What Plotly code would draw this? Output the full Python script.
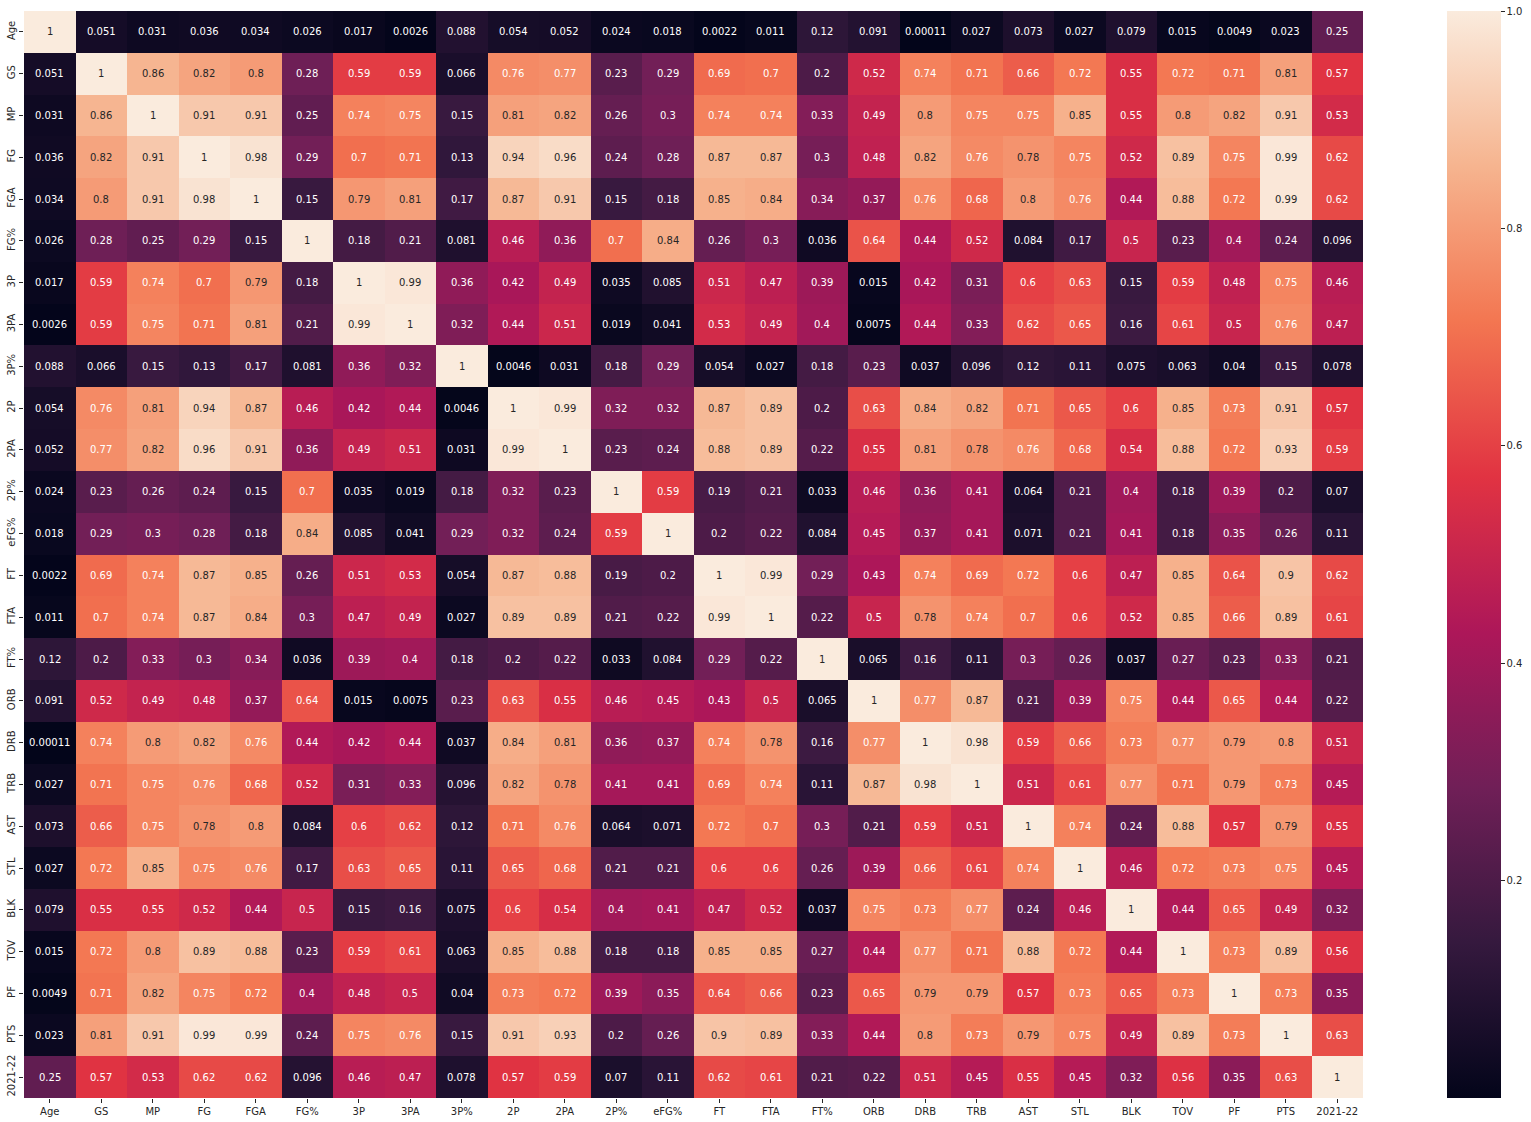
import plotly.graph_objects as go

labels = ["Age", "GS", "MP", "FG", "FGA", "FG%", "3P", "3PA", "3P%", "2P", "2PA", "2P%",
          "eFG%", "FT", "FTA", "FT%", "ORB", "DRB", "TRB", "AST", "STL", "BLK", "TOV",
          "PF", "PTS", "2021-22"]

corr = [
    [1, 0.051, 0.031, 0.036, 0.034, 0.026, 0.017, 0.0026, 0.088, 0.054, 0.052, 0.024, 0.018, 0.0022, 0.011, 0.12, 0.091, 0.00011, 0.027, 0.073, 0.027, 0.079, 0.015, 0.0049, 0.023, 0.25],
    [0.051, 1, 0.86, 0.82, 0.8, 0.28, 0.59, 0.59, 0.066, 0.76, 0.77, 0.23, 0.29, 0.69, 0.7, 0.2, 0.52, 0.74, 0.71, 0.66, 0.72, 0.55, 0.72, 0.71, 0.81, 0.57],
    [0.031, 0.86, 1, 0.91, 0.91, 0.25, 0.74, 0.75, 0.15, 0.81, 0.82, 0.26, 0.3, 0.74, 0.74, 0.33, 0.49, 0.8, 0.75, 0.75, 0.85, 0.55, 0.8, 0.82, 0.91, 0.53],
    [0.036, 0.82, 0.91, 1, 0.98, 0.29, 0.7, 0.71, 0.13, 0.94, 0.96, 0.24, 0.28, 0.87, 0.87, 0.3, 0.48, 0.82, 0.76, 0.78, 0.75, 0.52, 0.89, 0.75, 0.99, 0.62],
    [0.034, 0.8, 0.91, 0.98, 1, 0.15, 0.79, 0.81, 0.17, 0.87, 0.91, 0.15, 0.18, 0.85, 0.84, 0.34, 0.37, 0.76, 0.68, 0.8, 0.76, 0.44, 0.88, 0.72, 0.99, 0.62],
    [0.026, 0.28, 0.25, 0.29, 0.15, 1, 0.18, 0.21, 0.081, 0.46, 0.36, 0.7, 0.84, 0.26, 0.3, 0.036, 0.64, 0.44, 0.52, 0.084, 0.17, 0.5, 0.23, 0.4, 0.24, 0.096],
    [0.017, 0.59, 0.74, 0.7, 0.79, 0.18, 1, 0.99, 0.36, 0.42, 0.49, 0.035, 0.085, 0.51, 0.47, 0.39, 0.015, 0.42, 0.31, 0.6, 0.63, 0.15, 0.59, 0.48, 0.75, 0.46],
    [0.0026, 0.59, 0.75, 0.71, 0.81, 0.21, 0.99, 1, 0.32, 0.44, 0.51, 0.019, 0.041, 0.53, 0.49, 0.4, 0.0075, 0.44, 0.33, 0.62, 0.65, 0.16, 0.61, 0.5, 0.76, 0.47],
    [0.088, 0.066, 0.15, 0.13, 0.17, 0.081, 0.36, 0.32, 1, 0.0046, 0.031, 0.18, 0.29, 0.054, 0.027, 0.18, 0.23, 0.037, 0.096, 0.12, 0.11, 0.075, 0.063, 0.04, 0.15, 0.078],
    [0.054, 0.76, 0.81, 0.94, 0.87, 0.46, 0.42, 0.44, 0.0046, 1, 0.99, 0.32, 0.32, 0.87, 0.89, 0.2, 0.63, 0.84, 0.82, 0.71, 0.65, 0.6, 0.85, 0.73, 0.91, 0.57],
    [0.052, 0.77, 0.82, 0.96, 0.91, 0.36, 0.49, 0.51, 0.031, 0.99, 1, 0.23, 0.24, 0.88, 0.89, 0.22, 0.55, 0.81, 0.78, 0.76, 0.68, 0.54, 0.88, 0.72, 0.93, 0.59],
    [0.024, 0.23, 0.26, 0.24, 0.15, 0.7, 0.035, 0.019, 0.18, 0.32, 0.23, 1, 0.59, 0.19, 0.21, 0.033, 0.46, 0.36, 0.41, 0.064, 0.21, 0.4, 0.18, 0.39, 0.2, 0.07],
    [0.018, 0.29, 0.3, 0.28, 0.18, 0.84, 0.085, 0.041, 0.29, 0.32, 0.24, 0.59, 1, 0.2, 0.22, 0.084, 0.45, 0.37, 0.41, 0.071, 0.21, 0.41, 0.18, 0.35, 0.26, 0.11],
    [0.0022, 0.69, 0.74, 0.87, 0.85, 0.26, 0.51, 0.53, 0.054, 0.87, 0.88, 0.19, 0.2, 1, 0.99, 0.29, 0.43, 0.74, 0.69, 0.72, 0.6, 0.47, 0.85, 0.64, 0.9, 0.62],
    [0.011, 0.7, 0.74, 0.87, 0.84, 0.3, 0.47, 0.49, 0.027, 0.89, 0.89, 0.21, 0.22, 0.99, 1, 0.22, 0.5, 0.78, 0.74, 0.7, 0.6, 0.52, 0.85, 0.66, 0.89, 0.61],
    [0.12, 0.2, 0.33, 0.3, 0.34, 0.036, 0.39, 0.4, 0.18, 0.2, 0.22, 0.033, 0.084, 0.29, 0.22, 1, 0.065, 0.16, 0.11, 0.3, 0.26, 0.037, 0.27, 0.23, 0.33, 0.21],
    [0.091, 0.52, 0.49, 0.48, 0.37, 0.64, 0.015, 0.0075, 0.23, 0.63, 0.55, 0.46, 0.45, 0.43, 0.5, 0.065, 1, 0.77, 0.87, 0.21, 0.39, 0.75, 0.44, 0.65, 0.44, 0.22],
    [0.00011, 0.74, 0.8, 0.82, 0.76, 0.44, 0.42, 0.44, 0.037, 0.84, 0.81, 0.36, 0.37, 0.74, 0.78, 0.16, 0.77, 1, 0.98, 0.59, 0.66, 0.73, 0.77, 0.79, 0.8, 0.51],
    [0.027, 0.71, 0.75, 0.76, 0.68, 0.52, 0.31, 0.33, 0.096, 0.82, 0.78, 0.41, 0.41, 0.69, 0.74, 0.11, 0.87, 0.98, 1, 0.51, 0.61, 0.77, 0.71, 0.79, 0.73, 0.45],
    [0.073, 0.66, 0.75, 0.78, 0.8, 0.084, 0.6, 0.62, 0.12, 0.71, 0.76, 0.064, 0.071, 0.72, 0.7, 0.3, 0.21, 0.59, 0.51, 1, 0.74, 0.24, 0.88, 0.57, 0.79, 0.55],
    [0.027, 0.72, 0.85, 0.75, 0.76, 0.17, 0.63, 0.65, 0.11, 0.65, 0.68, 0.21, 0.21, 0.6, 0.6, 0.26, 0.39, 0.66, 0.61, 0.74, 1, 0.46, 0.72, 0.73, 0.75, 0.45],
    [0.079, 0.55, 0.55, 0.52, 0.44, 0.5, 0.15, 0.16, 0.075, 0.6, 0.54, 0.4, 0.41, 0.47, 0.52, 0.037, 0.75, 0.73, 0.77, 0.24, 0.46, 1, 0.44, 0.65, 0.49, 0.32],
    [0.015, 0.72, 0.8, 0.89, 0.88, 0.23, 0.59, 0.61, 0.063, 0.85, 0.88, 0.18, 0.18, 0.85, 0.85, 0.27, 0.44, 0.77, 0.71, 0.88, 0.72, 0.44, 1, 0.73, 0.89, 0.56],
    [0.0049, 0.71, 0.82, 0.75, 0.72, 0.4, 0.48, 0.5, 0.04, 0.73, 0.72, 0.39, 0.35, 0.64, 0.66, 0.23, 0.65, 0.79, 0.79, 0.57, 0.73, 0.65, 0.73, 1, 0.73, 0.35],
    [0.023, 0.81, 0.91, 0.99, 0.99, 0.24, 0.75, 0.76, 0.15, 0.91, 0.93, 0.2, 0.26, 0.9, 0.89, 0.33, 0.44, 0.8, 0.73, 0.79, 0.75, 0.49, 0.89, 0.73, 1, 0.63],
    [0.25, 0.57, 0.53, 0.62, 0.62, 0.096, 0.46, 0.47, 0.078, 0.57, 0.59, 0.07, 0.11, 0.62, 0.61, 0.21, 0.22, 0.51, 0.45, 0.55, 0.45, 0.32, 0.56, 0.35, 0.63, 1],
]

colorbar_ticks = [0.2, 0.4, 0.6, 0.8, 1.0]

rocket = [
    [0.0, "#03051A"],
    [1 / 7, "#35193E"],
    [2 / 7, "#701F57"],
    [3 / 7, "#AD1759"],
    [4 / 7, "#E13342"],
    [5 / 7, "#F37651"],
    [6 / 7, "#F6B48F"],
    [1.0, "#FAEBDD"],
]

flat = [v for row in corr for v in row]
zmin, zmax = min(flat), max(flat)

fig = go.Figure()
fig.add_trace(go.Heatmap(
    z=corr, x=labels, y=labels,
    colorscale=rocket, zmin=zmin, zmax=zmax,
    xgap=0, ygap=0,
    colorbar=dict(
        x=1.0627, xanchor="left", xref="paper",
        y=0.5, yanchor="middle", len=1.0, lenmode="fraction",
        thickness=54, xpad=0, ypad=0, outlinewidth=0,
        tickvals=colorbar_ticks, tickformat=".1f",
        ticks="outside", ticklen=4, tickwidth=1, tickcolor="#262626",
        tickfont=dict(family="DejaVu Sans", size=10, color="#262626"),
    ),
))

annotations = []
for i, rl in enumerate(labels):
    for j, cl in enumerate(labels):
        v = corr[i][j]
        annotations.append(dict(
            x=cl, y=rl, xref="x", yref="y",
            text="{:.2g}".format(v), showarrow=False,
            font=dict(family="DejaVu Sans", size=10,
                      color="#262626" if v >= 0.775 else "#FFFFFF"),
        ))

fig.update_layout(
    width=1531, height=1122,
    margin=dict(l=24, r=168, t=11, b=24, autoexpand=False),
    paper_bgcolor="white", plot_bgcolor="white",
    annotations=annotations,
    font=dict(family="DejaVu Sans", size=10, color="#262626"),
)
fig.update_xaxes(
    showgrid=False, zeroline=False, showline=False, automargin=False,
    ticks="outside", ticklen=4, tickwidth=1, tickcolor="#262626",
    tickfont=dict(family="DejaVu Sans", size=10, color="#262626"),
    tickangle=0,
)
fig.update_yaxes(
    autorange="reversed", automargin=False,
    showgrid=False, zeroline=False, showline=False,
    ticks="outside", ticklen=4, tickwidth=1, tickcolor="#262626",
    tickfont=dict(family="DejaVu Sans", size=10, color="#262626"),
    tickangle=-90,
)

fig.write_html(
    "out.html",
    config={"displayModeBar": False},
    post_script="document.body.style.margin='0px';document.body.style.padding='0px';",
)
